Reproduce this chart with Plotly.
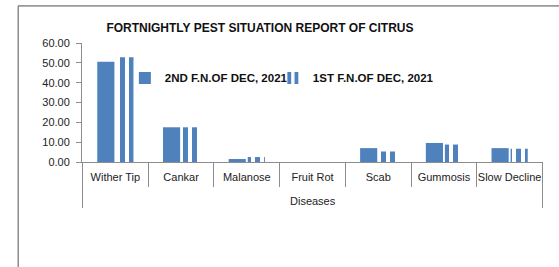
import plotly.graph_objects as go

categories = ["Wither Tip", "Cankar", "Malanose", "Fruit Rot", "Scab", "Gummosis", "Slow Decline"]
group_label = "Diseases"
series1_name = "2ND F.N.OF DEC, 2021"
series1 = [50.5, 17.5, 1.5, 0.0, 7.0, 9.6, 7.0]
series2_name = "1ST F.N.OF DEC, 2021"
series2 = [52.8, 17.5, 2.5, 0.0, 5.3, 8.8, 6.7]
title_text = "FORTNIGHTLY PEST SITUATION REPORT OF CITRUS"

BLUE = "#4F81BD"
GRAY = "#8C8C8C"
FONT = "Liberation Sans"

fig = go.Figure()
fig.add_trace(go.Bar(x=categories, y=series1, name=series1_name, legend="legend",
                     marker=dict(color=BLUE, line=dict(width=0))))
fig.add_trace(go.Bar(x=categories, y=series2, name=series2_name, legend="legend2",
                     marker=dict(color=BLUE, line=dict(width=0),
                                 pattern=dict(shape="|", fgcolor=BLUE, bgcolor="white",
                                              size=9, solidity=0.55, fillmode="replace"))))

legend_style = dict(orientation="h", yanchor="middle", y=0.706, xanchor="left",
                    font=dict(size=11.5, color="#111", weight="bold"),
                    bgcolor="rgba(0,0,0,0)", itemwidth=30)

fig.update_layout(
    width=559, height=267,
    margin=dict(l=82, r=16, t=43, b=105, autoexpand=False),
    paper_bgcolor="white", plot_bgcolor="white",
    barmode="group", bargap=0.42, bargroupgap=0.1,
    font=dict(family=FONT, size=11, color="#222"),
    title=dict(text="<b>" + title_text + "</b>", x=0.386, xref="paper", xanchor="center",
               y=1 - 28 / 267, yanchor="middle", font=dict(size=12, color="#111")),
    legend=dict(x=0.093, **legend_style),
    legend2=dict(x=0.414, **legend_style),
    showlegend=True,
)
fig.update_xaxes(type="category", showline=True, linecolor=GRAY, linewidth=1,
                 ticks="outside", tickson="boundaries", ticklen=24, tickcolor=GRAY,
                 tickangle=0, ticklabelstandoff=5,
                 automargin=False, showgrid=False, tickfont=dict(size=11))
fig.update_yaxes(range=[0, 60], dtick=10, tickformat=".2f", showline=True, linecolor=GRAY,
                 ticks="outside", ticklen=5, tickcolor=GRAY, showgrid=False, zeroline=False,
                 automargin=False, ticklabelstandoff=4, tickfont=dict(size=11))

# group label under the category labels
fig.add_annotation(text=group_label, xref="paper", yref="paper", x=0.5, y=-(201 - 162) / 119,
                   xanchor="center", yanchor="middle", showarrow=False,
                   font=dict(size=11, color="#222"))

# outer dividers of the category group
for xb in (-0.5, len(categories) - 0.5):
    fig.add_shape(type="line", xref="x", yref="paper", x0=xb, x1=xb, y0=0, y1=-(208 - 162) / 119,
                  line=dict(color=GRAY, width=1))

# chart frame (left and top edges)
frame_top = (43 - 6) / 119 + 1
fig.add_shape(type="line", xref="paper", yref="paper", x0=-0.1388, x1=1.1, y0=frame_top, y1=frame_top,
              line=dict(color="#999999", width=1.5))
fig.add_shape(type="line", xref="paper", yref="paper", x0=-0.1388, x1=-0.1388, y0=frame_top, y1=-1.2,
              line=dict(color=GRAY, width=1))

frame_js = (
    "document.body.style.margin='0px';"
    "document.body.style.overflow='hidden';"
    "var f=document.createElement('div');"
    "f.style.cssText='position:absolute;left:18px;top:5px;width:560px;height:300px;"
    "border-top:1px solid #999;border-left:1px solid #8c8c8c;pointer-events:none;z-index:10;';"
    "document.body.appendChild(f);"
)
fig.write_html("out.html", config={"displayModeBar": False}, post_script=frame_js)
